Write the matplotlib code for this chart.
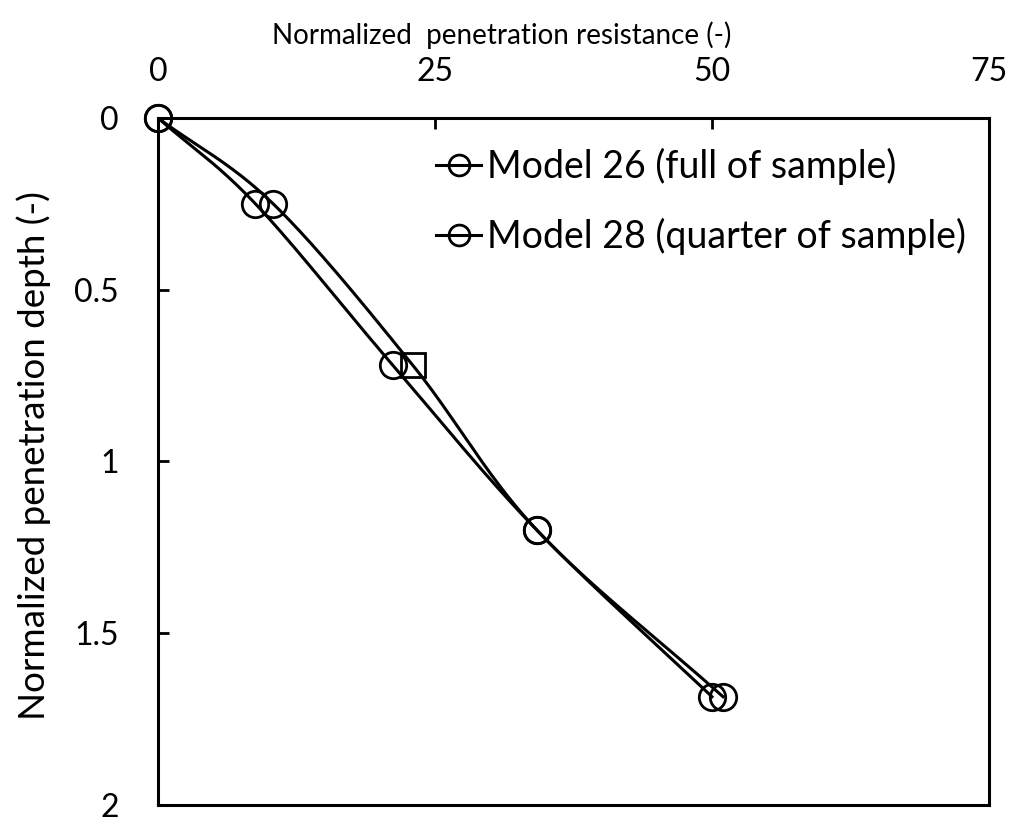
import numpy as np
import matplotlib
matplotlib.use("Agg")
import matplotlib.pyplot as plt
from matplotlib.lines import Line2D
from matplotlib.ticker import FuncFormatter

plt.rcParams['font.family'] = ['Lato', 'DejaVu Sans']

# normalized resistance (x) against normalized depth (y)
model26_x = [0.0, 8.8, 21.2, 34.2, 50.0]
model26_y = [0.0, 0.25, 0.72, 1.20, 1.685]
model28_x = [0.0, 10.4, 23.0, 34.2, 51.0]
model28_y = [0.0, 0.25, 0.72, 1.20, 1.685]
labels = ["Model 26 (full of sample)", "Model 28 (quarter of sample)"]


def smooth(xs, ys, n=40):
    # Catmull-Rom curve through the points, like a spreadsheet "smoothed line"
    p = np.column_stack([xs, ys]).astype(float)
    p = np.vstack([p[0] - (p[1] - p[0]), p, p[-1] + (p[-1] - p[-2])])
    out = []
    t = np.linspace(0, 1, n)[:, None]
    for i in range(1, len(p) - 2):
        p0, p1, p2, p3 = p[i - 1], p[i], p[i + 1], p[i + 2]
        seg = 0.5 * ((2 * p1) + (-p0 + p2) * t
                     + (2 * p0 - 5 * p1 + 4 * p2 - p3) * t ** 2
                     + (-p0 + 3 * p1 - 3 * p2 + p3) * t ** 3)
        out.append(seg)
    out = np.vstack(out)
    return out[:, 0], out[:, 1]


fig = plt.figure(figsize=(10.18, 8.24), dpi=100)
ax = fig.add_axes([0.1552, 0.0231, 0.8163, 0.8337])

lw = 2.2
ms = 19
for xs, ys in [(model26_x, model26_y), (model28_x, model28_y)]:
    sx, sy = smooth(xs, ys)
    ax.plot(sx, sy, color='black', lw=lw, zorder=2)

mk = dict(ls='none', ms=ms, mfc='none', mec='black', mew=2.0, zorder=3,
          clip_on=False)
ax.plot(model26_x, model26_y, marker='o', **mk)
idx = [0, 1, 3, 4]
ax.plot([model28_x[i] for i in idx], [model28_y[i] for i in idx],
        marker='o', **mk)
mk['ms'] = ms - 2
ax.plot([model28_x[2]], [model28_y[2]], marker='s', **mk)

handles = [Line2D([], [], color='black', lw=lw, marker='o', ms=15, mfc='none',
                  mec='black', mew=2.0) for _ in labels]
ax.legend(handles, labels, loc='upper left', bbox_to_anchor=(0.317, 0.978),
          frameon=False, fontsize=27, handlelength=1.2, handletextpad=0.15,
          labelspacing=0.87, borderaxespad=0)

ax.set_xlim(0, 75)
ax.set_ylim(2, 0)
ax.set_xticks([0, 25, 50, 75])
ax.set_yticks([0, 0.5, 1, 1.5, 2])
ax.yaxis.set_major_formatter(FuncFormatter(lambda v, p: '%g' % v))
ax.xaxis.tick_top()
ax.xaxis.set_label_position('top')
ax.tick_params(axis='both', direction='in', length=8, width=2, labelsize=23)
ax.tick_params(axis='x', pad=22)
ax.tick_params(axis='y', pad=28)
for s in ax.spines.values():
    s.set_linewidth(2.2)

ax.set_xlabel("Normalized  penetration resistance (-)", fontsize=20)
ax.xaxis.set_label_coords(0.413, 1.12)
ax.xaxis.label.set_va('center')
ax.set_ylabel("Normalized penetration depth (-)", fontsize=26.5)
ax.yaxis.set_label_coords(-0.150, 0.508)
ax.yaxis.label.set_va('center')

fig.savefig("out.png", dpi=100)
